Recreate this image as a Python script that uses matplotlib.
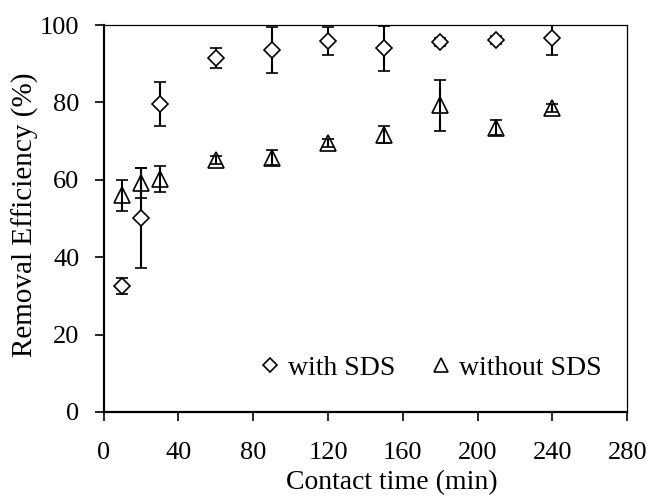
import matplotlib
matplotlib.use('Agg')
import matplotlib.pyplot as plt

plt.rcParams['font.family'] = ['Liberation Serif', 'DejaVu Serif']

# contact time (min)
time = [10, 20, 30, 60, 90, 120, 150, 180, 210, 240]

# removal efficiency (%) with SDS
with_sds = [32.6, 50.1, 79.5, 91.4, 93.6, 95.9, 94.0, 95.7, 96.1, 96.6]
with_sds_err = [2.0, 13.0, 5.7, 2.6, 6.0, 3.6, 5.8, 1.0, 1.0, 4.4]

# removal efficiency (%) without SDS
without_sds = [56.0, 59.2, 60.2, 65.2, 65.7, 69.6, 71.7, 79.3, 73.5, 78.6]
without_sds_err = [4.0, 3.8, 3.3, 1.0, 1.9, 1.0, 2.3, 6.6, 1.9, 1.0]

fig = plt.figure(figsize=(6.48, 5.0), dpi=100)
ax = fig.add_axes([0.160, 0.176, 0.808, 0.774])

ax.errorbar(time, with_sds, yerr=with_sds_err, fmt='D', ms=8, mfc='white',
            mec='black', mew=1.2, ecolor='black', elinewidth=1.5, capsize=4.3,
            capthick=1.5, label='with SDS', zorder=3)
ax.errorbar(time, without_sds, yerr=without_sds_err, fmt='^', ms=11, mfc='none',
            mec='black', mew=1.2, ecolor='black', elinewidth=1.5, capsize=4.3,
            capthick=1.5, label='without SDS', zorder=3)

ax.set_xlim(0, 280)
ax.set_ylim(0, 100)
ax.set_xticks(range(0, 281, 40))
ax.set_yticks(range(0, 101, 20))
ax.set_xlabel('Contact time (min)', fontsize=20)
ax.set_ylabel('Removal Efficiency (%)', fontsize=21)
ax.xaxis.set_label_coords(0.55, -0.150)
ax.yaxis.set_label_coords(-0.124, 0.509)
ax.tick_params(direction='out', length=6.5, width=1.2, labelsize=19)
ax.tick_params(axis='x', pad=15)
ax.tick_params(axis='y', pad=11)

ax.spines['left'].set_linewidth(1.6)
ax.spines['bottom'].set_linewidth(1.6)
ax.spines['top'].set_linewidth(0.9)
ax.spines['right'].set_linewidth(0.9)

handles, labels = ax.get_legend_handles_labels()
handles = [h[0] for h in handles]
ax.legend(handles, labels, loc='center', ncol=2, frameon=False,
          fontsize=20, handlelength=0.7, handletextpad=0.3,
          columnspacing=1.3, markerscale=0.95, bbox_to_anchor=(0.625, 0.114))

fig.savefig('out.png', dpi=100)
